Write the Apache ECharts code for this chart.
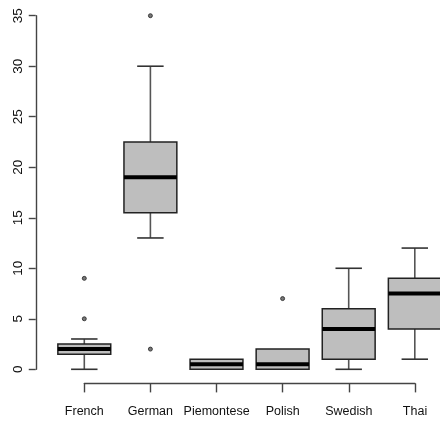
<!DOCTYPE html>
<html>
<head>
<meta charset="utf-8">
<script src="https://cdn.jsdelivr.net/npm/echarts@6/dist/echarts.min.js"></script>
<style>html,body{margin:0;padding:0;background:#fff}#c{width:440px;height:421px}</style>
</head>
<body>
<div id="c"></div>
<script>
const categories = ['French', 'German', 'Piemontese', 'Polish', 'Swedish', 'Thai'];
const lowerWhisker = [0, 13, 0, 0, 0, 1];
const q1 = [1.5, 15.5, 0, 0, 1, 4];
const medians = [2, 19, 0.5, 0.5, 4, 7.5];
const q3 = [2.5, 22.5, 1, 2, 6, 9];
const upperWhisker = [3, 30, 1, 2, 10, 12];
const outliers = [[0, 9], [0, 5], [1, 35], [1, 2], [3, 7]];
const yTicks = [0, 5, 10, 15, 20, 25, 30, 35];

const boxData = categories.map((c, i) => [i, lowerWhisker[i], q1[i], medians[i], q3[i], upperWhisker[i]]);

const FONT = "'Liberation Sans', Arial, sans-serif";
const LINE = '#444';

const chart = echarts.init(document.getElementById('c'), null, {renderer: 'canvas'});
chart.setOption({
  animation: false,
  backgroundColor: '#fff',
  grid: [
    {left: 51.25, top: 15.7, width: 396.6, height: 353.6, outerBoundsMode: 'none', containLabel: false},
    {left: 84.3, top: 300, width: 330.7, height: 83.4, outerBoundsMode: 'none', containLabel: false}
  ],
  xAxis: [
    {gridIndex: 0, type: 'category', data: categories, boundaryGap: true, show: false},
    {gridIndex: 1, type: 'category', data: categories, boundaryGap: false,
      axisLine: {lineStyle: {color: LINE, width: 1.4}},
      axisTick: {length: 9, lineStyle: {color: LINE, width: 1.4}},
      axisLabel: {margin: 22, color: '#111', fontSize: 12.5, fontFamily: FONT, interval: 0},
      splitLine: {show: false}}
  ],
  yAxis: [
    {gridIndex: 0, type: 'value', min: 0, max: 35, interval: 5, offset: 15.5,
      axisLine: {show: true, lineStyle: {color: LINE, width: 1.4}},
      axisTick: {show: true, length: 7, lineStyle: {color: LINE, width: 1.4}},
      axisLabel: {rotate: 90, margin: 10, color: '#111', fontSize: 13.5, fontFamily: FONT,
        customValues: yTicks},
      splitLine: {show: false}},
    {gridIndex: 1, type: 'value', show: false}
  ],
  series: [
    {
      type: 'custom',
      xAxisIndex: 0, yAxisIndex: 0,
      data: boxData,
      clip: false,
      renderItem: function (params, api) {
        const x = api.value(0);
        const lo = api.coord([x, api.value(1)]);
        const b1 = api.coord([x, api.value(2)]);
        const md = api.coord([x, api.value(3)]);
        const b3 = api.coord([x, api.value(4)]);
        const hi = api.coord([x, api.value(5)]);
        const bw = api.size([1, 0])[0];
        const hb = bw * 0.4, hs = bw * 0.2;
        const cx = lo[0];
        const lineStyle = {stroke: '#555', lineWidth: 1.6};
        const capStyle = {stroke: '#333', lineWidth: 1.6};
        const children = [];
        if (hi[1] < b3[1]) {
          children.push({type: 'line', shape: {x1: cx, y1: b3[1], x2: cx, y2: hi[1]}, style: lineStyle});
          children.push({type: 'line', shape: {x1: cx - hs, y1: hi[1], x2: cx + hs, y2: hi[1]}, style: capStyle});
        }
        if (lo[1] > b1[1]) {
          children.push({type: 'line', shape: {x1: cx, y1: b1[1], x2: cx, y2: lo[1]}, style: lineStyle});
          children.push({type: 'line', shape: {x1: cx - hs, y1: lo[1], x2: cx + hs, y2: lo[1]}, style: capStyle});
        }
        children.push({type: 'rect', shape: {x: cx - hb, y: b3[1], width: 2 * hb, height: b1[1] - b3[1]},
          style: {fill: '#bebebe', stroke: '#222', lineWidth: 1.5}});
        children.push({type: 'line', shape: {x1: cx - hb, y1: md[1], x2: cx + hb, y2: md[1]},
          style: {stroke: '#000', lineWidth: 4}});
        return {type: 'group', children: children};
      }
    },
    {
      type: 'scatter',
      xAxisIndex: 0, yAxisIndex: 0,
      data: outliers,
      symbol: 'circle',
      symbolSize: 4,
      itemStyle: {color: '#555', borderColor: '#222', borderWidth: 1},
      clip: false
    }
  ]
});
</script>
</body>
</html>
